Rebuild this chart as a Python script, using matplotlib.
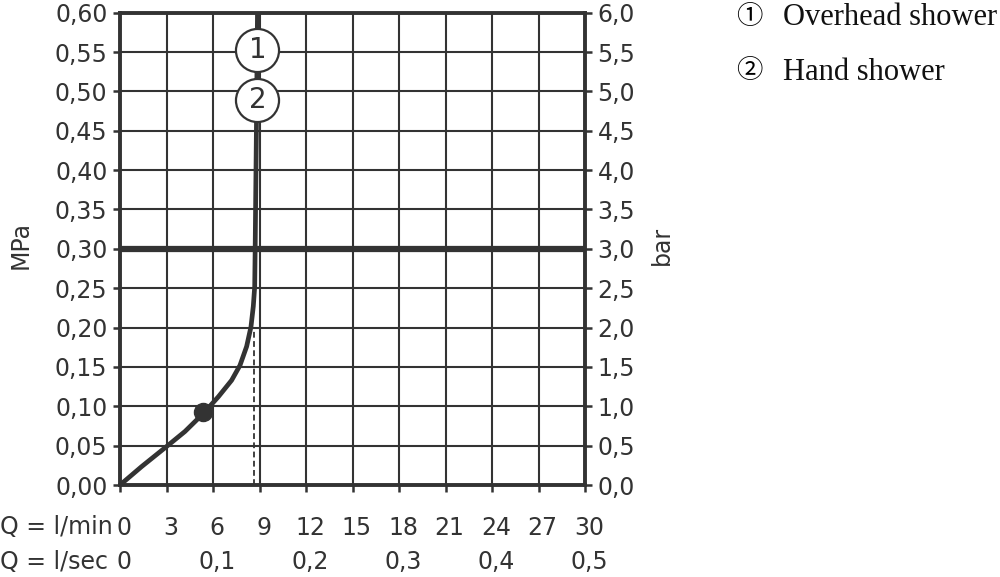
import matplotlib
matplotlib.use("Agg")
import matplotlib.pyplot as plt
from matplotlib.transforms import ScaledTranslation

# ---- data ----
flow_lmin = [0.0, 1.40, 3.01, 4.19, 5.38, 6.34, 7.20, 7.74, 8.17, 8.45, 8.60, 8.69, 8.72, 8.80, 8.87]
pressure_mpa = [0.0, 0.0235, 0.049, 0.068, 0.091, 0.112, 0.133, 0.152, 0.176, 0.201, 0.227, 0.252, 0.30, 0.45, 0.60]
min_point = (5.38, 0.093)
dashed_x = 8.62
dashed_top = 0.20
ref_pressure = 0.30
circle_labels = ["1", "2"]
circle_x = [8.87, 8.87]
circle_y = [0.553, 0.489]
xticks_lmin = [0, 3, 6, 9, 12, 15, 18, 21, 24, 27, 30]
xticks_lsec = [0, 0.1, 0.2, 0.3, 0.4, 0.5]
yticks_mpa = [round(0.05 * i, 2) for i in range(13)]
yticks_bar = [round(0.5 * i, 1) for i in range(13)]
legend_items = [("\u2460", "Overhead shower"), ("\u2461", "Hand shower")]

C = "#333333"
SANS = "DejaVu Sans"
FS = 17

fig = plt.figure(figsize=(10, 5.77), dpi=100)
ax = fig.add_axes([0.12, 0.1594, 0.465, 0.8186])
ax.set_xlim(0, 30)
ax.set_ylim(0, 0.6)

# grid
ax.set_xticks(xticks_lmin)
ax.set_yticks(yticks_mpa)
ax.grid(True, color=C, linewidth=1.5)
ax.set_axisbelow(True)
for s in ax.spines.values():
    s.set_color(C)
    s.set_linewidth(2.8)

ax.set_xticklabels([str(v) for v in xticks_lmin], fontsize=FS, family=SANS, color=C)
ax.set_yticklabels([f"{v:.2f}".replace(".", ",") for v in yticks_mpa], fontsize=FS, family=SANS, color=C)
ax.tick_params(axis="x", length=5, width=1.8, color=C, pad=17)
ax.tick_params(axis="y", length=5, width=1.8, color=C, pad=4)
off = ScaledTranslation(4 / 100, 0, fig.dpi_scale_trans)
for lab in ax.get_xticklabels():
    lab.set_transform(lab.get_transform() + off)

# secondary x-axis l/sec
sec = ax.secondary_xaxis(0, functions=(lambda x: x / 60.0, lambda x: x * 60.0))
sec.set_xticks(xticks_lsec)
sec.set_xticklabels(["0" if v == 0 else f"{v:.1f}".replace(".", ",") for v in xticks_lsec],
                    fontsize=FS, family=SANS, color=C)
sec.tick_params(axis="x", length=0, pad=47)
sec.spines["bottom"].set_visible(False)
for lab in sec.get_xticklabels():
    lab.set_transform(lab.get_transform() + off)

# right axis bar
ax2 = ax.twinx()
ax2.set_ylim(0, 6)
ax2.set_yticks(yticks_bar)
ax2.set_yticklabels([f"{v:.1f}".replace(".", ",") for v in yticks_bar], fontsize=FS, family=SANS, color=C)
ax2.tick_params(axis="y", length=5, width=1.8, color=C, pad=4)
for s in ax2.spines.values():
    s.set_visible(False)

# reference line 0.30
ax.axhline(ref_pressure, color=C, linewidth=4.5, zorder=3)

# dashed line
ax.plot([dashed_x, dashed_x], [0, dashed_top], color=C, linewidth=1.3, dashes=(3.2, 1.9), zorder=3)

# curve
ax.plot(flow_lmin, pressure_mpa, color=C, linewidth=3.4, solid_capstyle="butt",
        solid_joinstyle="round", zorder=4)
ax.plot([min_point[0]], [min_point[1]], "o", color=C, markersize=13, zorder=5)

# circle labels
for lab, cx, cy in zip(circle_labels, circle_x, circle_y):
    ax.plot([cx], [cy], "o", markersize=31, markerfacecolor="white", markeredgecolor=C,
            markeredgewidth=1.6, zorder=6)
    ax.text(cx, cy, lab, ha="center", va="center", fontsize=20, family=SANS, color=C, zorder=7)

# axis labels
fig.text(0.021, 0.575, "MPa", rotation=90, ha="center", va="center", fontsize=FS, family=SANS, color=C)
fig.text(0.662, 0.575, "bar", rotation=90, ha="center", va="center", fontsize=FS, family=SANS, color=C)
fig.text(0.0, 1 - 527 / 577, "Q = l/min", ha="left", va="center", fontsize=FS, family=SANS, color=C)
fig.text(0.0, 1 - 562 / 577, "Q = l/sec", ha="left", va="center", fontsize=FS, family=SANS, color=C)

# legend
for i, (sym, txt) in enumerate(legend_items):
    yb = 1 - (25 + 55 * i) / 577
    yc = 1 - (16 + 55 * i) / 577
    fig.text(0.7495, yc, sym, ha="center", va="center", fontsize=19,
             family=["Noto Sans CJK JP", "DejaVu Sans"], color="#000000")
    fig.text(0.783, yb, txt, ha="left", va="baseline", fontsize=22,
             family="Liberation Serif", color="#111111")

fig.savefig("out.png", dpi=100)
